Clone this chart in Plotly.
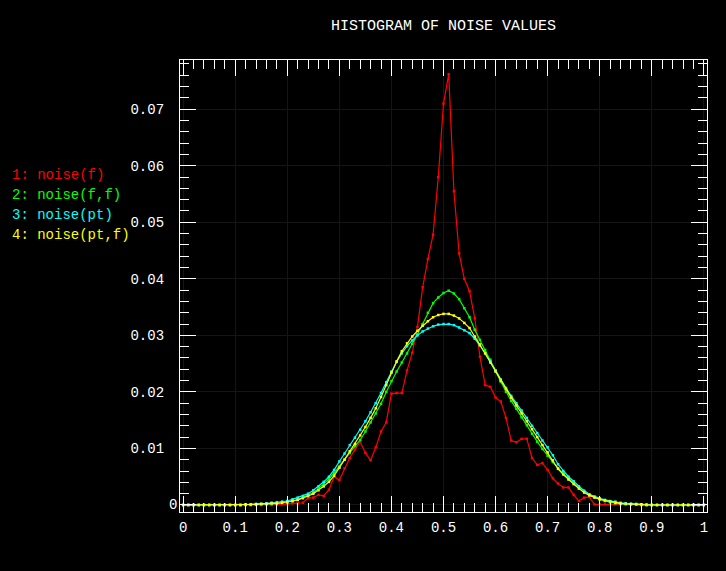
import plotly.graph_objects as go

# x positions of the histogram bins (0 .. 1 in steps of 0.01)
bins = [round(i * 0.01, 2) for i in range(101)]

# 1: noise(f)
noise_f = [
    0.0, 0.0, 0.0, 0.0, 0.0, 0.0, 0.0, 0.0, 0.0, 0.0,
    0.0, 0.0, 0.0, 0.0, 0.0, 0.0, 0.0, 0.0, 0.0, 0.0001,
    0.0002, 0.0003, 0.0003, 0.0004, 0.0012, 0.0013, 0.0018, 0.0016, 0.0027, 0.0050,
    0.0044, 0.0065, 0.0083, 0.0098, 0.0112, 0.0092, 0.0079, 0.0102, 0.0130, 0.0146,
    0.0197, 0.0198, 0.0198, 0.0238, 0.0269, 0.0315, 0.0385, 0.0435, 0.0478, 0.0580,
    0.0710, 0.0762, 0.0555, 0.0445, 0.0400, 0.0378, 0.0330, 0.0262, 0.0212, 0.0209,
    0.0190, 0.0183, 0.0154, 0.0114, 0.0111, 0.0117, 0.0117, 0.0083, 0.0071, 0.0074,
    0.0062, 0.0047, 0.0038, 0.0031, 0.0031, 0.0018, 0.0007, 0.0013, 0.0014, 0.0001,
    0.0001, 0.0001, 0.0001, 0.0001, 0.0001, 0.0001, 0.0001, 0.0001, 0.0, 0.0,
    0.0, 0.0, 0.0, 0.0, 0.0, 0.0, 0.0, 0.0, 0.0, 0.0,
    0.0,
]

# 2: noise(f,f)
noise_ff = [
    0.0, 0.0, 0.0, 0.0, 0.0, 0.0, 0.0, 0.0, 0.0, 0.0,
    0.0, 0.0, 0.0, 0.0, 0.0001, 0.0001, 0.0002, 0.0002, 0.0003, 0.0004,
    0.0005, 0.0007, 0.0009, 0.0013, 0.0017, 0.0022, 0.0029, 0.0037, 0.0046, 0.0057,
    0.0068, 0.0080, 0.0092, 0.0104, 0.0115, 0.0130, 0.0146, 0.0162, 0.0179, 0.0200,
    0.0219, 0.0236, 0.0252, 0.0268, 0.0285, 0.0302, 0.0320, 0.0340, 0.0357, 0.0367,
    0.0375, 0.0379, 0.0374, 0.0364, 0.0348, 0.0332, 0.0310, 0.0292, 0.0274, 0.0257,
    0.0237, 0.0218, 0.0200, 0.0184, 0.0170, 0.0155, 0.0141, 0.0126, 0.0112, 0.0099,
    0.0087, 0.0076, 0.0065, 0.0056, 0.0047, 0.0039, 0.0032, 0.0025, 0.0019, 0.0014,
    0.0010, 0.0007, 0.0005, 0.0003, 0.0002, 0.0002, 0.0001, 0.0001, 0.0, 0.0,
    0.0, 0.0, 0.0, 0.0, 0.0, 0.0, 0.0, 0.0, 0.0, 0.0,
    0.0,
]

# 3: noise(pt)
noise_pt = [
    0.0, 0.0, 0.0, 0.0, 0.0, 0.0, 0.0, 0.0, 0.0, 0.0,
    0.0, 0.0, 0.0001, 0.0001, 0.0002, 0.0002, 0.0003, 0.0004, 0.0005, 0.0006,
    0.0007, 0.0010, 0.0013, 0.0016, 0.0020, 0.0026, 0.0033, 0.0041, 0.0050, 0.0062,
    0.0077, 0.0091, 0.0106, 0.0119, 0.0133, 0.0148, 0.0164, 0.0180, 0.0198, 0.0217,
    0.0236, 0.0253, 0.0268, 0.0281, 0.0291, 0.0300, 0.0307, 0.0312, 0.0316, 0.0319,
    0.0320, 0.0320, 0.0318, 0.0314, 0.0309, 0.0304, 0.0294, 0.0282, 0.0269, 0.0254,
    0.0238, 0.0222, 0.0207, 0.0193, 0.0180, 0.0167, 0.0154, 0.0140, 0.0127, 0.0114,
    0.0102, 0.0088, 0.0072, 0.0060, 0.0050, 0.0042, 0.0033, 0.0025, 0.0019, 0.0015,
    0.0012, 0.0009, 0.0007, 0.0006, 0.0004, 0.0003, 0.0002, 0.0002, 0.0001, 0.0001,
    0.0, 0.0, 0.0, 0.0, 0.0, 0.0, 0.0, 0.0, 0.0, 0.0,
    0.0,
]

# 4: noise(pt,f)
noise_ptf = [
    0.0, 0.0, 0.0, 0.0, 0.0, 0.0, 0.0, 0.0, 0.0, 0.0,
    0.0, 0.0, 0.0001, 0.0001, 0.0001, 0.0002, 0.0002, 0.0003, 0.0003, 0.0004,
    0.0005, 0.0007, 0.0009, 0.0012, 0.0016, 0.0020, 0.0026, 0.0033, 0.0041, 0.0052,
    0.0066, 0.0080, 0.0095, 0.0108, 0.0123, 0.0138, 0.0154, 0.0171, 0.0191, 0.0212,
    0.0234, 0.0254, 0.0272, 0.0286, 0.0298, 0.0308, 0.0317, 0.0325, 0.0332, 0.0336,
    0.0338, 0.0338, 0.0335, 0.0330, 0.0322, 0.0313, 0.0298, 0.0284, 0.0268, 0.0252,
    0.0236, 0.0220, 0.0205, 0.0190, 0.0176, 0.0162, 0.0148, 0.0134, 0.0120, 0.0106,
    0.0093, 0.0079, 0.0064, 0.0054, 0.0045, 0.0037, 0.0029, 0.0022, 0.0017, 0.0013,
    0.0010, 0.0008, 0.0006, 0.0004, 0.0003, 0.0002, 0.0002, 0.0001, 0.0001, 0.0,
    0.0, 0.0, 0.0, 0.0, 0.0, 0.0, 0.0, 0.0, 0.0, 0.0,
    0.0,
]

series_names = ["1: noise(f)", "2: noise(f,f)", "3: noise(pt)", "4: noise(pt,f)"]
series_values = [noise_f, noise_ff, noise_pt, noise_ptf]
series_colors = ["#ff0000", "#00ff00", "#00ffff", "#ffff00"]

x_tick_vals = [0, 0.1, 0.2, 0.3, 0.4, 0.5, 0.6, 0.7, 0.8, 0.9, 1.0]
x_tick_text = ["0", "0.1", "0.2", "0.3", "0.4", "0.5", "0.6", "0.7", "0.8", "0.9", "1"]
y_tick_vals = [0, 0.01, 0.02, 0.03, 0.04, 0.05, 0.06, 0.07]
y_tick_text = ["", "0.01", "0.02", "0.03", "0.04", "0.05", "0.06", "0.07"]

title_text = "HISTOGRAM OF NOISE VALUES"

W, H = 726, 571
L, R, T, B = 180, 19, 60, 59
FONT = "Liberation Mono, DejaVu Sans Mono, monospace"

fig = go.Figure()
for name, vals, col in zip(series_names, series_values, series_colors):
    fig.add_trace(go.Scatter(
        x=bins, y=vals, name=name, mode="lines+markers",
        line=dict(color=col, width=1.2),
        marker=dict(symbol="square", size=2.5, color=col),
        showlegend=False,
    ))

# coloured legend texts on the left
for i, (name, col) in enumerate(zip(series_names, series_colors)):
    fig.add_annotation(
        text=name, xref="paper", yref="paper",
        x=(10 - L) / (W - L - R), y=1 - (175 + 20 * i - T) / (H - T - B),
        xanchor="left", yanchor="middle", showarrow=False,
        font=dict(color=col, size=14, family=FONT),
    )

# the zero label sits right next to the axis
fig.add_annotation(
    text="0", xref="paper", yref="y", x=-0.002, y=0,
    xanchor="right", yanchor="middle", showarrow=False,
    font=dict(color="white", size=14, family=FONT),
)

axis_common = dict(
    showline=True, linecolor="white", linewidth=1.3, mirror="allticks",
    ticks="inside", ticklen=16, tickwidth=1.3, tickcolor="white",
    showgrid=True, gridcolor="#151515", gridwidth=1, zeroline=False,
    tickfont=dict(color="white", size=14, family=FONT),
    tickmode="array",
)

fig.update_xaxes(
    **axis_common,
    range=[-0.006, 1.006], tickvals=x_tick_vals, ticktext=x_tick_text,
    ticklabelstandoff=2,
    minor=dict(tickmode="linear", tick0=0, dtick=0.02, ticks="inside",
               ticklen=9, tickwidth=1.3, tickcolor="white", showgrid=False),
)
fig.update_yaxes(
    **axis_common,
    range=[-0.00124, 0.0787], tickvals=y_tick_vals, ticktext=y_tick_text,
    ticklabelstandoff=12,
    minor=dict(tickmode="linear", tick0=0, dtick=0.002, ticks="inside",
               ticklen=9, tickwidth=1.3, tickcolor="white", showgrid=False),
)

fig.update_layout(
    width=W, height=H,
    margin=dict(l=L, r=R, t=T, b=B),
    paper_bgcolor="black", plot_bgcolor="black",
    title=dict(text=title_text, x=0.5, xanchor="center", xref="paper",
               y=1 - 25 / H, yanchor="middle",
               font=dict(color="white", size=15, family=FONT)),
)

# drop the page margin so the figure fills the window
fig.write_html(
    "out.html",
    config={"displayModeBar": False},
    post_script="document.body.style.margin='0';document.body.style.background='black';",
)
